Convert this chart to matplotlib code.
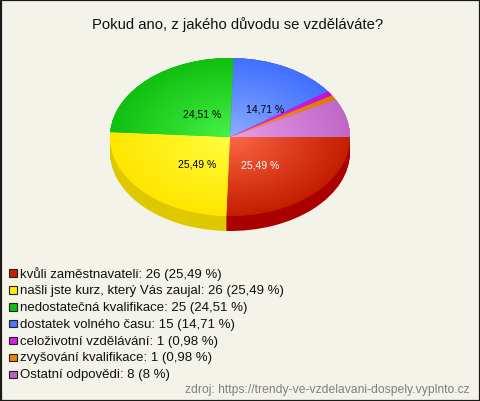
import numpy as np
import matplotlib
matplotlib.use("Agg")
import matplotlib.pyplot as plt
import matplotlib.colors as mc
from matplotlib.patches import Rectangle

plt.rcParams['font.family'] = ['Liberation Sans', 'DejaVu Sans']

title = "Pokud ano, z jakého důvodu se vzděláváte?"
categories = ["kvůli zaměstnavateli", "našli jste kurz, který Vás zaujal",
              "nedostatečná kvalifikace", "dostatek volného času",
              "celoživotní vzdělávání", "zvyšování kvalifikace", "Ostatní odpovědi"]
counts = [26, 26, 25, 15, 1, 1, 8]
pct_text = ["25,49 %", "25,49 %", "24,51 %", "14,71 %", "0,98 %", "0,98 %", "8 %"]
source = "zdroj: https://trendy-ve-vzdelavani-dospely.vyplnto.cz"

top_light = ["#ff6a48", "#ffff40", "#48f448", "#90b0ff", "#e038f0", "#ff9a20", "#eaa0ea"]
top_dark = ["#c41e00", "#ffe600", "#10c010", "#4070ff", "#c010d8", "#e07800", "#c068c8"]
side_colors = ["#aa0000", "#e0c800", "#0c9a0c", "#2050d0", "#a000b0", "#c06000", "#a050a8"]
legend_colors = ["#c82000", "#ffee00", "#10c010", "#4a7aff", "#d020e0", "#f08000", "#c060c0"]
label_colors = ["white", "black", "black", "black", "black", "black", "black"]
label_rx = [0.36, 0.37, 0.35, 0.62, 0.4, 0.4, 0.4]

W, H = 480, 402
bg = "#f4f3ea"
fig = plt.figure(figsize=(W / 100, H / 100), dpi=100, facecolor=bg)

# overlay axes in pixel coords
ov = fig.add_axes([0, 0, 1, 1])
ov.set_xlim(0, W)
ov.set_ylim(H, 0)
ov.axis("off")
ov.add_patch(Rectangle((0.5, 0.5), W - 1, H - 1, fill=False, edgecolor="#1a1a1a", linewidth=1.6))
ov.text(238, 29, title, ha="center", va="baseline", fontsize=10.7, color="#111111")

# pie geometry (pixels)
cx, cy, rx, ry, depth = 230, 138, 120, 79, 15
dd = depth / ry
pax = fig.add_axes([(cx - rx) / W, 1 - (cy + ry + depth) / H, 2 * rx / W, (2 * ry + depth) / H])

for k in np.linspace(dd, 0, 20):
    pax.pie(counts, colors=side_colors, startangle=0, counterclock=False,
            center=(0, -k), radius=1, wedgeprops=dict(linewidth=0))

wedges, _ = pax.pie(counts, colors=top_dark, startangle=0, counterclock=False,
                    center=(0, 0), radius=1, wedgeprops=dict(linewidth=0))

n = 300
xs = np.linspace(-1, 1, n)
X, Y = np.meshgrid(xs, xs[::-1])
R = np.clip(np.sqrt(X ** 2 + Y ** 2), 0, 1)
for w, cl, cd in zip(wedges, top_light, top_dark):
    a = np.array(mc.to_rgb(cl))
    b = np.array(mc.to_rgb(cd))
    t = R[..., None] ** 0.9
    img = a * (1 - t) + b * t
    im = pax.imshow(img, extent=(-1, 1, -1, 1), origin="upper", interpolation="bilinear", zorder=3)
    im.set_clip_path(w)

pax.set_aspect("auto")
pax.set_xlim(-1, 1)
pax.set_ylim(-1 - dd, 1)
pax.axis("off")

total = sum(counts)
cum = 0.0
for i, c in enumerate(counts):
    frac = c / total
    mid = -(cum + frac / 2) * 2 * np.pi
    cum += frac
    if frac > 0.1:
        lx = label_rx[i] * np.cos(mid)
        ly = 0.446 * np.sin(mid) - 0.03
        pax.text(lx, ly, pct_text[i], ha="center", va="center", fontsize=7.5,
                 color=label_colors[i], zorder=5)

# legend
for i, (cat, c, p) in enumerate(zip(categories, counts, pct_text)):
    y = 274 + 16.9 * i
    ov.add_patch(Rectangle((9, y - 3.8), 7.5, 7.5, facecolor=legend_colors[i],
                           edgecolor="#222222", linewidth=0.8))
    ov.text(19.5, y, f"{cat}: {c} ({p})", ha="left", va="center", fontsize=9.5, color="#111111")

ov.text(470, 390, source, ha="right", va="center", fontsize=8.7, color="#808080")

fig.savefig("out.png", dpi=100, facecolor=bg)
